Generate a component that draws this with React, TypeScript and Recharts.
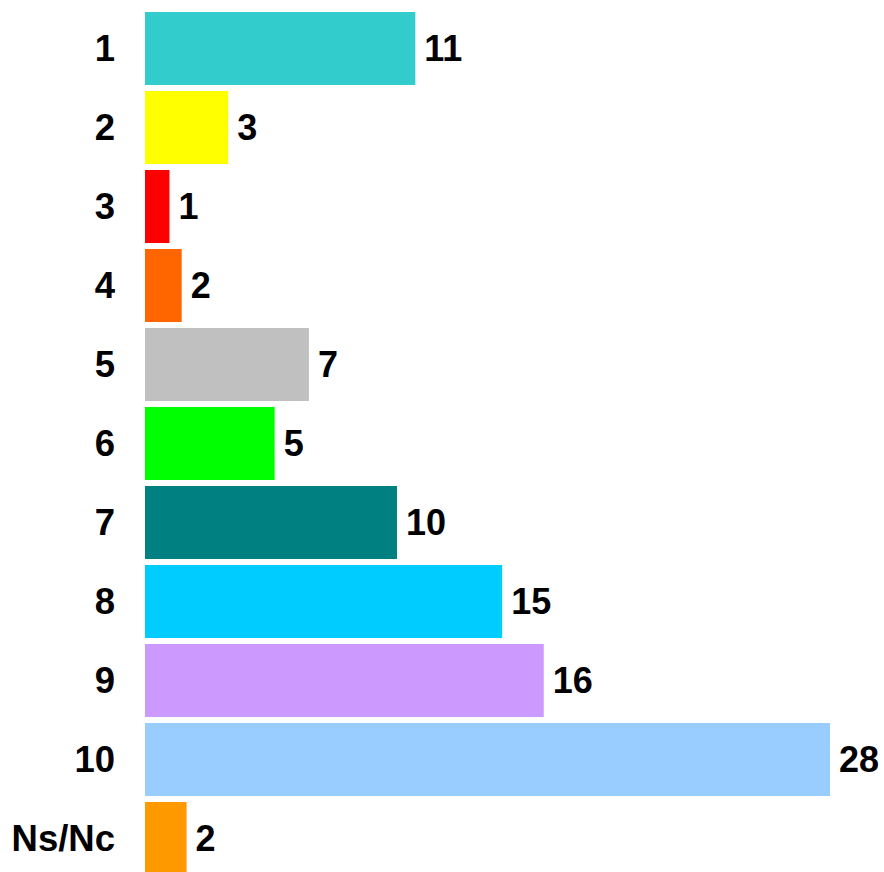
import { BarChart, Bar, XAxis, YAxis, Cell, LabelList } from "recharts";

const categories = ["1", "2", "3", "4", "5", "6", "7", "8", "9", "10", "Ns/Nc"];
const values = [11.05, 3.4, 1.0, 1.5, 6.7, 5.3, 10.3, 14.6, 16.3, 28.0, 1.7];
const colors = [
  "#33CCCC",
  "#FFFF00",
  "#FF0000",
  "#FF6600",
  "#C0C0C0",
  "#00FF00",
  "#008080",
  "#00CCFF",
  "#CC99FF",
  "#99CCFF",
  "#FF9900",
];

const data = categories.map((name, i) => ({ name, value: values[i] }));

const font = "'Liberation Sans', Arial, sans-serif";

export default function App() {
  return (
    <div
      style={{
        position: "absolute",
        left: 0,
        top: 0,
        width: 884,
        height: 872,
        overflow: "hidden",
        background: "#fff",
      }}
    >
      <BarChart
        width={884}
        height={878}
        data={data}
        layout="vertical"
        margin={{ top: 9, right: 54, bottom: 0, left: 0 }}
        barCategoryGap={3}
      >
        <XAxis type="number" domain={[0, 28]} hide />
        <YAxis
          type="category"
          dataKey="name"
          width={145}
          axisLine={false}
          tickLine={false}
          tickMargin={24}
          interval={0}
          tick={{ fill: "#000", fontSize: 36.5, fontWeight: "bold", fontFamily: font }}
        />
        <Bar dataKey="value" isAnimationActive={false}>
          {data.map((d, i) => (
            <Cell key={d.name} fill={colors[i]} />
          ))}
          <LabelList
            dataKey="value"
            position="right"
            offset={9}
            formatter={(v: number) => Math.round(v)}
            style={{ fill: "#000", fontSize: 36, fontWeight: "bold", fontFamily: font }}
          />
        </Bar>
      </BarChart>
    </div>
  );
}
